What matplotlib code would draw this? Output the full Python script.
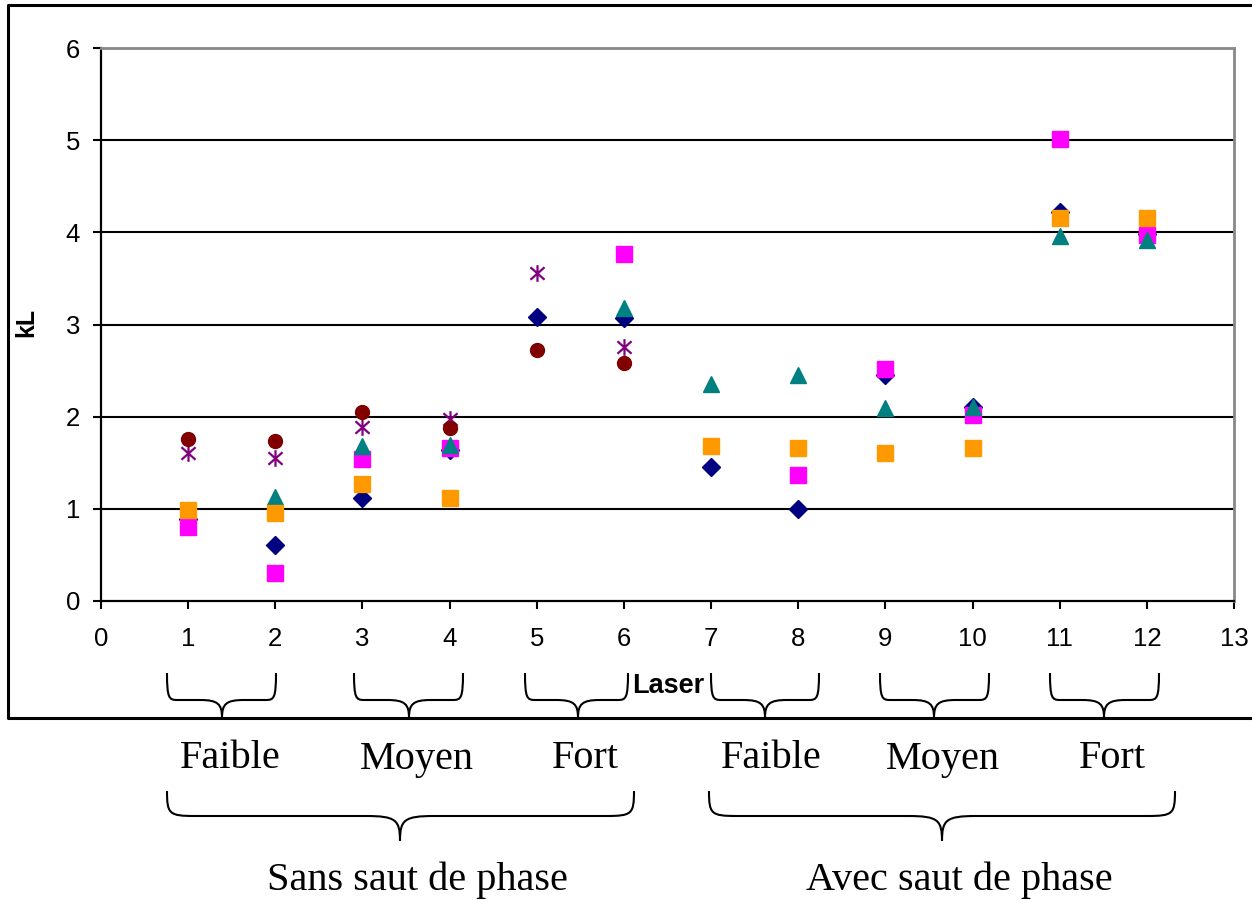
import numpy as np
import matplotlib
matplotlib.use("Agg")
import matplotlib.pyplot as plt
from matplotlib.path import Path
from matplotlib.patches import PathPatch

nan = np.nan
laser = [1, 2, 3, 4, 5, 6, 7, 8, 9, 10, 11, 12]
s_diamond = [0.89, 0.61, 1.12, 1.64, 3.08, 3.07, 1.45, 1.00, 2.45, 2.11, 4.22, 3.98]
s_magenta = [0.80, 0.30, 1.54, 1.66, nan, 3.76, nan, 1.37, 2.52, 2.02, 5.01, 3.97]
s_triangle = [nan, 1.13, 1.68, 1.69, nan, 3.18, 2.35, 2.45, 2.09, 2.10, 3.96, 3.92]
s_orange = [0.99, 0.96, 1.27, 1.12, nan, nan, 1.68, 1.66, 1.61, 1.66, 4.16, 4.16]
s_aster = [1.61, 1.55, 1.89, 1.98, 3.56, 2.76, nan, nan, nan, nan, nan, nan]
s_circle = [1.76, 1.74, 2.05, 1.88, 2.72, 2.58, nan, nan, nan, nan, nan, nan]

groups_sub = ["Faible", "Moyen", "Fort", "Faible", "Moyen", "Fort"]
groups_main = ["Sans saut de phase", "Avec saut de phase"]

W, H = 1252, 901
fig = plt.figure(figsize=(W / 100, H / 100), dpi=100)
fig.patch.set_facecolor("white")

ax = fig.add_axes([101 / W, 1 - 601 / H, (1234 - 101) / W, (601 - 48) / H])
ax.set_xlim(0, 13)
ax.set_ylim(0, 6)
ax.set_xticks(range(0, 14))
ax.set_yticks(range(0, 7))
for y in range(1, 6):
    ax.axhline(y, color="black", lw=1.5, zorder=1)

ast = Path([(0, -1), (0, 1), (-0.85, -0.75), (0.85, 0.75), (-0.85, 0.75), (0.85, -0.75)],
           [Path.MOVETO, Path.LINETO, Path.MOVETO, Path.LINETO, Path.MOVETO, Path.LINETO])

kw = dict(linestyle="none", zorder=3, clip_on=False)
ax.plot(laser, s_diamond, marker="D", ms=8.7, color="#000080", mec="#000080", **kw)
ax.plot(laser, s_magenta, marker="s", ms=11, color="#FF00FF", mec="#FF00FF", **kw)
ax.plot(laser, s_triangle, marker="^", ms=12, color="#008080", mec="#008080", **kw)
ax.plot(laser, s_orange, marker="s", ms=11, color="#FF9900", mec="#FF9900", **kw)
ax.plot(laser, s_aster, marker=ast, ms=12, color="#800080", mec="#800080", mew=1.6, **kw)
ax.plot(laser, s_circle, marker="o", ms=10, color="#800000", mec="#800000", **kw)

for sp in ["left", "bottom"]:
    ax.spines[sp].set_color("black")
    ax.spines[sp].set_linewidth(1.6)
for sp in ["top", "right"]:
    ax.spines[sp].set_color("#888888")
    ax.spines[sp].set_linewidth(2)
ax.tick_params(axis="both", direction="out", length=6, width=1.5, colors="black",
               labelsize=18.5)
ax.tick_params(axis="x", pad=13)
ax.tick_params(axis="y", pad=9)
for lab in ax.get_xticklabels() + ax.get_yticklabels():
    lab.set_family("Liberation Sans")

ax.set_ylabel("kL", fontsize=18, fontweight="bold", family="Liberation Sans")
ax.yaxis.set_label_coords((38 - 101) / (1234 - 101), (601 - 322) / (601 - 48))

# overlay in pixel coordinates
ov = fig.add_axes([0, 0, 1, 1], facecolor="none")
ov.set_xlim(0, W)
ov.set_ylim(H, 0)
ov.axis("off")

# chart frame
ov.plot([W + 5, 8, 8, W + 5], [5, 5, 718, 718], color="black", lw=2.2, clip_on=False)

ov.text(668, 686, "Laser", fontsize=19.5, fontweight="bold", family="Liberation Sans",
        ha="center", va="center")


def brace(x0, x1, xm, ytop, ymid, ybot, r=10, r2=22, lw=1.5):
    C = Path.CURVE4
    verts = [(x0, ytop),
             (x0, ymid - 2), (x0 + 2, ymid), (x0 + r, ymid),
             (xm - r2, ymid),
             (xm - 4, ymid), (xm, ymid + 4), (xm, ybot),
             (xm, ymid + 4), (xm + 4, ymid), (xm + r2, ymid),
             (x1 - r, ymid),
             (x1 - 2, ymid), (x1, ymid - 2), (x1, ytop)]
    codes = [Path.MOVETO, C, C, C, Path.LINETO, C, C, C, C, C, C, Path.LINETO, C, C, C]
    ov.add_patch(PathPatch(Path(verts, codes), fill=False, lw=lw, color="black"))


small = [(167, 276, 222), (354, 463, 409), (525, 628, 578),
         (711, 819, 765), (880, 989, 934), (1050, 1159, 1104)]
for x0, x1, xm in small:
    brace(x0, x1, xm, 673, 700, 718)

big = [(167, 634, 400), (709, 1175, 942)]
for x0, x1, xm in big:
    brace(x0, x1, xm, 791, 816, 841, r=28, r2=34)

sub_x = [230, 417, 585, 771, 943, 1112]
for x, t in zip(sub_x, groups_sub):
    ov.text(x, 759, t, fontsize=29, family="Liberation Serif", ha="center", va="center")

main_x = [417, 959]
for x, t in zip(main_x, groups_main):
    ov.text(x, 880, t, fontsize=29, family="Liberation Serif", ha="center", va="center")

fig.savefig("out.png", dpi=100)
